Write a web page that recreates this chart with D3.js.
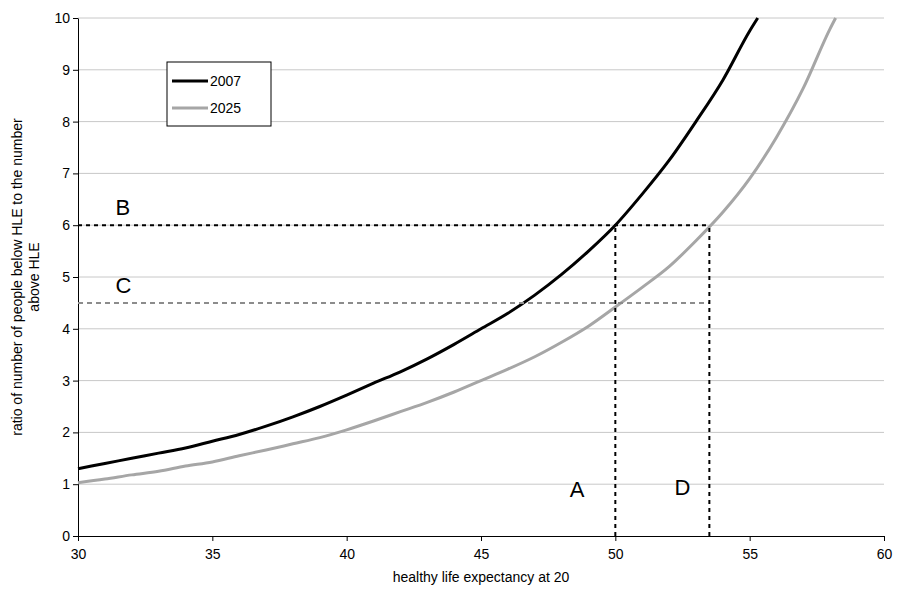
<meta charset="utf-8">
<body style="margin:0">
<script src="https://d3js.org/d3.v7.js"></script>
<script>
var xs = [30,31,32,33,34,35,36,37,38,39,40,41,42,43,44,45,46,47,48,49,50,51,52,53,54,55,55.3];
var y2007 = [1.3,1.4,1.5,1.6,1.7,1.83,1.96,2.12,2.3,2.5,2.72,2.95,3.17,3.42,3.7,4.0,4.3,4.65,5.05,5.5,6.0,6.6,7.25,8.0,8.8,9.75,10];
var xs2 = [30,31,32,33,34,35,36,37,38,39,40,41,42,43,44,45,46,47,48,49,50,51,52,53,54,55,56,57,58,58.2];
var y2025 = [1.03,1.1,1.18,1.25,1.35,1.43,1.55,1.66,1.78,1.9,2.05,2.22,2.4,2.58,2.78,3.0,3.22,3.46,3.74,4.05,4.42,4.8,5.2,5.7,6.25,6.9,7.7,8.65,9.8,10];
var xTicks = [30,35,40,45,50,55,60];
var yTicks = [0,1,2,3,4,5,6,7,8,9,10];

var svg = d3.select("body").append("svg").attr("width",904).attr("height",608)
  .style("font-family","Liberation Sans, Arial, sans-serif");
var x = d3.scaleLinear().domain([30,60]).range([78,884]);
var y = d3.scaleLinear().domain([0,10]).range([536,18]);

svg.selectAll(".grid").data(yTicks.slice(1)).enter().append("line")
  .attr("x1",x(30)).attr("x2",x(60)).attr("y1",d=>y(d)).attr("y2",d=>y(d))
  .attr("stroke","#c8c8c8");

var xa = svg.append("g").attr("transform","translate(0,536)")
  .call(d3.axisBottom(x).tickValues(xTicks).tickSize(5).tickSizeOuter(0));
var ya = svg.append("g").attr("transform","translate(78,0)")
  .call(d3.axisLeft(y).tickValues(yTicks).tickSize(5).tickSizeOuter(0));
[xa,ya].forEach(function(a){
  a.selectAll("text").style("font-size","14px").attr("fill","#000");
  a.select(".domain").attr("stroke","#000");
});
xa.selectAll("text").attr("dy","1.1em");

var line = d3.line().x(d=>x(d[0])).y(d=>y(d[1])).curve(d3.curveMonotoneX);
svg.append("path").datum(d3.zip(xs2,y2025)).attr("d",line)
  .attr("fill","none").attr("stroke","#a6a6a6").attr("stroke-width",3);
svg.append("path").datum(d3.zip(xs,y2007)).attr("d",line)
  .attr("fill","none").attr("stroke","#000").attr("stroke-width",3);

function seg(x1,y1,x2,y2,c,dash){
  svg.append("line").attr("x1",x(x1)).attr("y1",y(y1)).attr("x2",x(x2)).attr("y2",y(y2))
    .attr("stroke",c).attr("stroke-width",2).attr("stroke-dasharray",dash);
}
seg(30,4.5,53.5,4.5,"#8c8c8c","5,4");
seg(30,6,53.5,6,"#000","4,4");
seg(50,0,50,6,"#000","4,4");
seg(53.5,0,53.5,6,"#000","4,4");

[["A",48.3,0.75],["D",52.2,0.8],["B",31.4,6.2],["C",31.4,4.7]].forEach(function(l){
  svg.append("text").attr("x",x(l[1])).attr("y",y(l[2])).text(l[0])
    .style("font-size","22px");
});

var lg = svg.append("g");
lg.append("rect").attr("x",167).attr("y",62).attr("width",104).attr("height",64)
  .attr("fill","#fff").attr("stroke","#000");
[["2007","#000"],["2025","#a6a6a6"]].forEach(function(d,i){
  var yy = 81 + i*27;
  lg.append("line").attr("x1",172).attr("x2",208).attr("y1",yy).attr("y2",yy)
    .attr("stroke",d[1]).attr("stroke-width",3);
  lg.append("text").attr("x",210).attr("y",yy+5).text(d[0]).style("font-size","14px");
});

svg.append("text").attr("x",481).attr("y",582).attr("text-anchor","middle")
  .style("font-size","14px").text("healthy life expectancy at 20");
svg.append("text").attr("transform","translate(22,277) rotate(-90)").attr("text-anchor","middle")
  .style("font-size","14px")
  .selectAll("tspan").data(["ratio of number of people below HLE to the number","above HLE"])
  .enter().append("tspan").attr("x",0).attr("dy",(d,i)=>i?"1.2em":0).text(d=>d);
</script>
</body>
